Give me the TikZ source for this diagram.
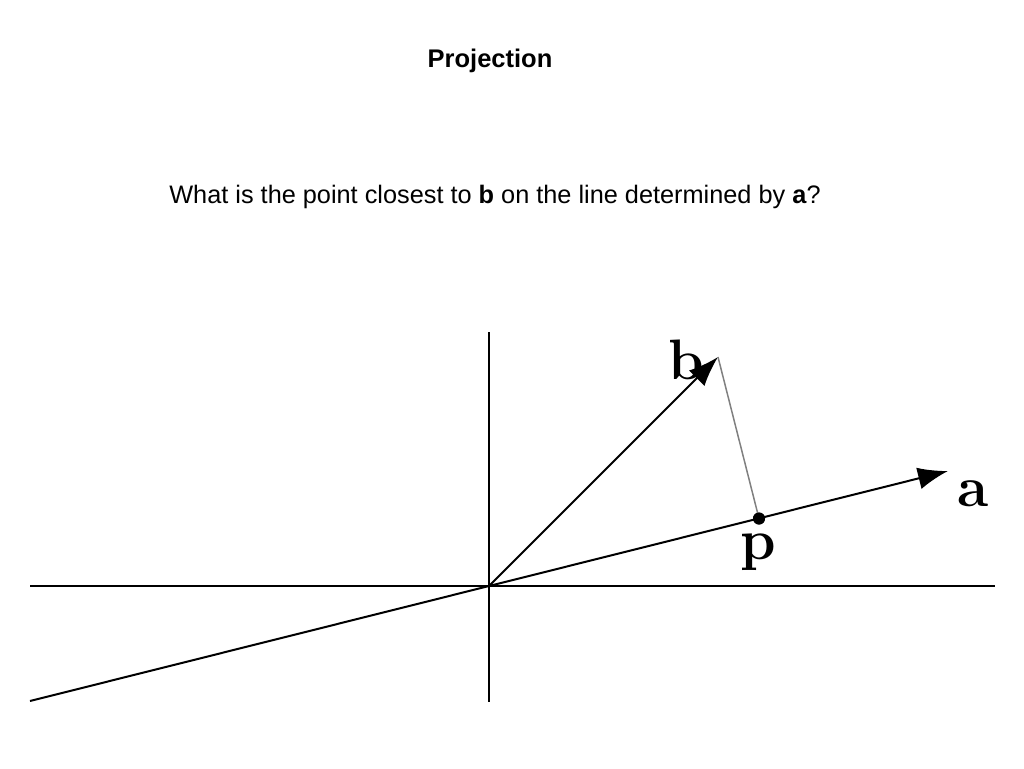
\documentclass[tikz,border=0pt]{standalone}
\usepackage{fontspec}
\setmainfont{Liberation Sans}
\newfontfamily\lmfont{Latin Modern Roman}
\usetikzlibrary{arrows.meta}
\tikzset{
  axis/.style={line width=2pt, black},
  vec/.style={line width=2pt, black, -{Latex[length=30pt,width=22pt]}},
  proj/.style={line width=1.5pt, gray},
  dot/.style={circle, fill=black, inner sep=0pt, minimum size=12pt},
  veclabel/.style={font=\lmfont\fontsize{57}{60}\selectfont\bfseries, inner sep=0pt},
  title/.style={font=\fontsize{25.5}{28}\selectfont\bfseries},
  question/.style={font=\fontsize{25.3}{28}\selectfont}
}
\begin{document}
\begin{tikzpicture}[x=1pt,y=-1pt]
\useasboundingbox (0,0) rectangle (1024,768);
\node[title] (t) at (490,61) {Projection};
\node[question] (q) at (495,197) {What is the point closest to \textbf{b} on the line determined by \textbf{a}?};
\coordinate (O) at (489,586);
\coordinate (vtop) at (489,332);
\coordinate (vbot) at (489,702);
\coordinate (hl) at (30,586);
\coordinate (hr) at (995,586);
\coordinate (al) at (30,701);
\coordinate (atip) at (948,471);
\coordinate (btip) at (718,357);
\draw[axis] (vtop) -- (vbot);
\draw[axis] (hl) -- (hr);
\draw[axis] (al) -- (O);
\draw[vec] (O) -- (atip);
\draw[vec] (O) -- (btip);
\node[dot] (p) at (759,518.5) {};
\draw[proj] (btip) -- (p.center);
\node[dot] at (p) {};
\node[veclabel] (lb) at (686,360) {b};
\node[veclabel] (la) at (973,494) {a};
\node[veclabel] (lp) at (758,552) {p};
\end{tikzpicture}
\end{document}
